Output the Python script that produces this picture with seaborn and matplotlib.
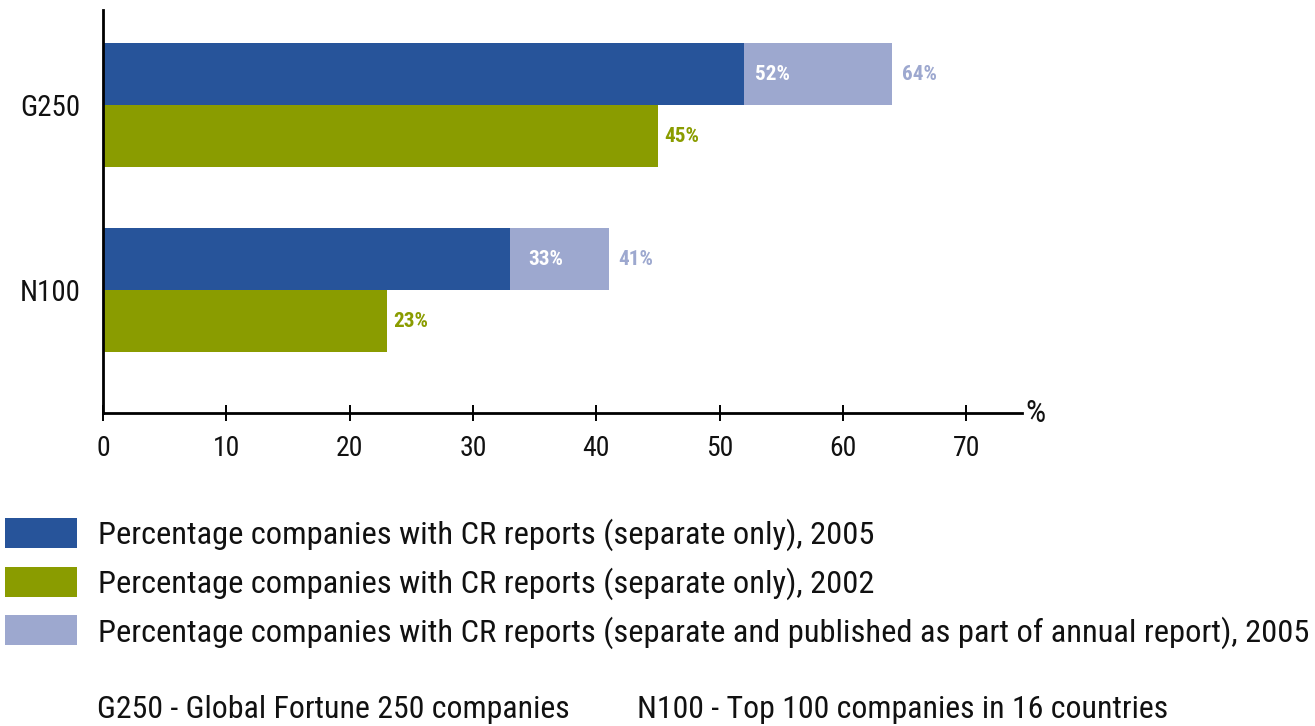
import matplotlib
matplotlib.use("Agg")
import matplotlib.pyplot as plt
import seaborn as sns
import pandas as pd
from matplotlib.patches import Patch

sns.set_theme(style="white")
plt.rcParams['font.family'] = ['Roboto Condensed', 'Archivo Narrow', 'Barlow Semi Condensed', 'DejaVu Sans']

# ---- data ----
groups = ["G250", "N100"]
separate_2005 = [52, 33]
total_2005 = [64, 41]
separate_2002 = [45, 23]
hue_levels = ["2005", "2002"]
xticks = [0, 10, 20, 30, 40, 50, 60, 70]
legend_labels = [
    "Percentage companies with CR reports (separate only), 2005",
    "Percentage companies with CR reports (separate only), 2002",
    "Percentage companies with CR reports (separate and published as part of annual report), 2005",
]
footnotes = ["G250 - Global Fortune 250 companies", "N100 - Top 100 companies in 16 countries"]

c_blue = "#27549A"
c_green = "#8A9C00"
c_light = "#9DA8CF"
c_text = "#111111"

df_total = pd.DataFrame({
    "group": groups * 2,
    "year": ["2005"] * 2 + ["2002"] * 2,
    "value": total_2005 + separate_2002,
})
df_sep = pd.DataFrame({
    "group": groups * 2,
    "year": ["2005"] * 2 + ["2002"] * 2,
    "value": separate_2005 + separate_2002,
})

fig = plt.figure(figsize=(13.15, 7.26), dpi=100)
renderer = fig.canvas.get_renderer()


def fit_size(s, target_px, weight="normal", base=20):
    t = fig.text(0, 0, s, fontsize=base, fontweight=weight)
    w = t.get_window_extent(renderer).width
    t.remove()
    return base * target_px / w


fs_leg = fit_size(legend_labels[0], 773)
fs_foot = fit_size(footnotes[0], 471)
fs_ylab = fit_size("G250", 60)
fs_tick = 20
fs_val = fit_size("52%", 35, weight="bold")

ax = fig.add_axes([0.0783, 0.431, 0.777 - 0.0783, 0.555])

sns.barplot(data=df_total, y="group", x="value", hue="year", hue_order=hue_levels,
            order=groups, palette=[c_light, c_green], width=0.67, orient="h",
            ax=ax, legend=False, saturation=1, errorbar=None, linewidth=0)
sns.barplot(data=df_sep, y="group", x="value", hue="year", hue_order=hue_levels,
            order=groups, palette=[c_blue, c_green], width=0.67, orient="h",
            ax=ax, legend=False, saturation=1, errorbar=None, linewidth=0)

off = 0.67 / 4
for i, g in enumerate(groups):
    ax.text(separate_2005[i] + (0.9 if i == 0 else 1.5), i - off, f"{separate_2005[i]}%",
            color="white", fontsize=fs_val, fontweight="bold", va="center", ha="left")
    ax.text(total_2005[i] + 0.8, i - off, f"{total_2005[i]}%", color=c_light,
            fontsize=fs_val, fontweight="bold", va="center", ha="left")
    ax.text(separate_2002[i] + 0.5, i + off, f"{separate_2002[i]}%", color=c_green,
            fontsize=fs_val, fontweight="bold", va="center", ha="left")

ax.set_xlim(0, 74.5)
ax.set_ylim(1.665, -0.514)
ax.set_xticks(xticks)
ax.set_xticklabels([str(t) for t in xticks], fontsize=fs_tick, color=c_text)
ax.set_yticks(range(len(groups)))
ax.set_yticklabels(groups, fontsize=fs_ylab, color=c_text)
ax.set_xlabel("")
ax.set_ylabel("")
ax.tick_params(axis="x", bottom=True, direction="inout", length=12, width=1.4,
               color="black", pad=10)
ax.tick_params(axis="y", left=False, length=0, pad=16)
for s in ["top", "right"]:
    ax.spines[s].set_visible(False)
for s in ["left", "bottom"]:
    ax.spines[s].set_color("black")
    ax.spines[s].set_linewidth(2)
ax.text(1.004, 0.0, "%", transform=ax.transAxes, fontsize=fs_ylab * 1.1, ha="left",
        va="center", color=c_text)

handles = [Patch(facecolor=c, edgecolor="none") for c in [c_blue, c_green, c_light]]
fpx = fs_leg * 100 / 72
fig.legend(handles, legend_labels, loc="upper left",
           bbox_to_anchor=(5 / 1315, 1 - 518 / 726),
           frameon=False, fontsize=fs_leg, handlelength=72 / fpx, handleheight=34 / fpx,
           handletextpad=21 / fpx, labelspacing=0.47, borderaxespad=0, borderpad=0,
           labelcolor=c_text)

fig.text(97 / 1315, 1 - 709 / 726, footnotes[0], fontsize=fs_foot, va="center", ha="left",
         color=c_text)
fig.text(637 / 1315, 1 - 709 / 726, footnotes[1], fontsize=fs_foot, va="center", ha="left",
         color=c_text)

fig.savefig("out.png", dpi=100)
